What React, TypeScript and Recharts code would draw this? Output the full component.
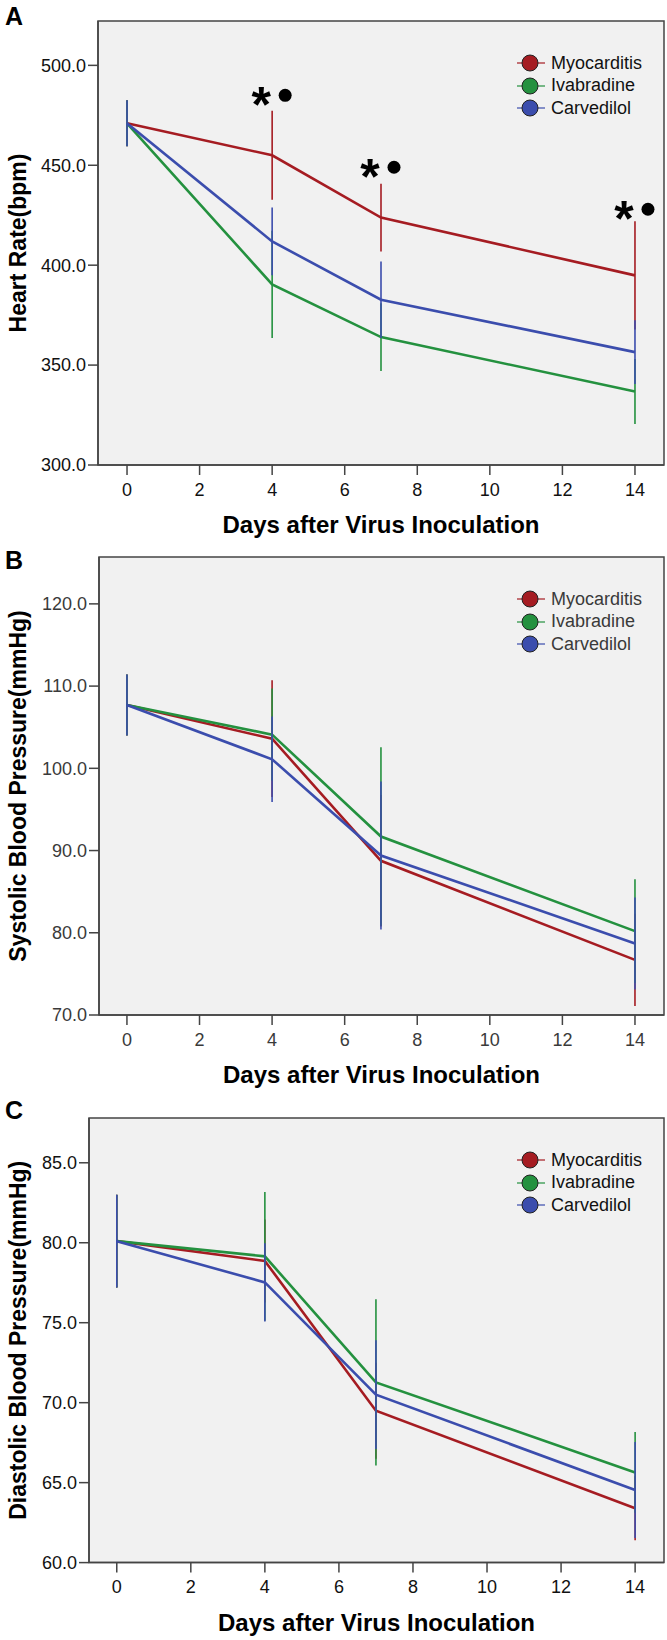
import React from "react";
import {
  LineChart,
  Line,
  XAxis,
  YAxis,
  ErrorBar,
  ReferenceArea,
  ReferenceDot,
  Legend,
} from "recharts";

const days = [0, 4, 7, 14];
const dayTicks = [0, 2, 4, 6, 8, 10, 12, 14];
const groups = ["Myocarditis", "Ivabradine", "Carvedilol"];
const groupColors = ["#A51C22", "#24913F", "#3B4DAD"];

// A: heart rate (bpm), mean and error half-width
const hrMyocarditis = [471, 455, 423.8, 394.9];
const hrIvabradine = [471, 390.4, 364, 336.8];
const hrCarvedilol = [471, 411.9, 382.7, 356.5];
const hrMyocarditisErr = [11.5, 22.3, 17, 27.1];
const hrIvabradineErr = [11.5, 26.8, 17, 16.3];
const hrCarvedilolErr = [11.5, 17, 19.2, 16];
const hrTicks = [300, 350, 400, 450, 500];

// significance marks on panel A
const markDays = [4, 7, 14];
const markLevels = [485, 449, 428];

// B: systolic blood pressure (mmHg)
const sbpMyocarditis = [107.7, 103.6, 88.75, 76.7];
const sbpIvabradine = [107.7, 104.1, 91.7, 80.2];
const sbpCarvedilol = [107.7, 101.1, 89.4, 78.7];
const sbpMyocarditisErr = [3.7, 7.1, 8, 5.6];
const sbpIvabradineErr = [3.7, 5.6, 10.85, 6.3];
const sbpCarvedilolErr = [3.7, 5.2, 9, 5.6];
const sbpTicks = [70, 80, 90, 100, 110, 120];

// C: diastolic blood pressure (mmHg)
const dbpMyocarditis = [80.1, 78.86, 69.5, 63.4];
const dbpIvabradine = [80.1, 79.15, 71.27, 65.64];
const dbpCarvedilol = [80.1, 77.52, 70.5, 64.54];
const dbpMyocarditisErr = [2.9, 2.6, 3, 2];
const dbpIvabradineErr = [2.9, 4.03, 5.2, 2.52];
const dbpCarvedilolErr = [2.9, 2.45, 3.4, 3];
const dbpTicks = [60, 65, 70, 75, 80, 85];

const FONT = '"Liberation Sans", Arial, Helvetica, sans-serif';
const AXIS = "#444";

function buildRows(means: number[][], errs: number[][]) {
  return days.map((day, i) => ({
    day,
    s0: means[0][i],
    s1: means[1][i],
    s2: means[2][i],
    e0: errs[0][i],
    e1: errs[1][i],
    e2: errs[2][i],
  }));
}

const yTitle = (text: string, x: number) => (props: any) => {
  const vb = props.viewBox;
  const cy = vb.y + vb.height / 2;
  return (
    <text
      x={x}
      y={cy}
      transform={`rotate(-90, ${x}, ${cy})`}
      textAnchor="middle"
      dominantBaseline="central"
      fontSize={23}
      fontWeight="bold"
      fontFamily={FONT}
      fill="#000"
    >
      {text}
    </text>
  );
};

const xTitle = (props: any) => {
  const vb = props.viewBox;
  return (
    <text
      x={vb.x + vb.width / 2}
      y={vb.y + 68}
      textAnchor="middle"
      fontSize={24}
      fontWeight="bold"
      fontFamily={FONT}
      fill="#000"
    >
      Days after Virus Inoculation
    </text>
  );
};

const SigMark = (props: any) => {
  const { cx, cy } = props;
  return (
    <g>
      <text
        x={cx - 11}
        y={cy + 27}
        textAnchor="middle"
        fontSize={50}
        fontWeight="bold"
        fontFamily={FONT}
        fill="#000"
      >
        *
      </text>
      <circle cx={cx + 13} cy={cy} r={6.5} fill="#000" />
    </g>
  );
};

const legendContent = (textColor: string) => (props: any) => {
  const items = [...(props.payload || [])].sort(
    (a: any, b: any) => groups.indexOf(a.value) - groups.indexOf(b.value)
  );
  return (
    <div style={{ fontFamily: FONT, fontSize: 18, color: textColor }}>
      {items.map((entry: any) => (
        <div
          key={entry.value}
          style={{ display: "flex", alignItems: "center", height: 22.6 }}
        >
          <svg width={33} height={22} style={{ display: "block" }}>
            <line x1={2} y1={11} x2={30} y2={11} stroke={entry.color} strokeWidth={1.2} />
            <circle cx={15} cy={11} r={8} fill={entry.color} stroke="#222" strokeWidth={1} />
          </svg>
          <span style={{ marginLeft: 3 }}>{entry.value}</span>
        </div>
      ))}
    </div>
  );
};

interface PanelProps {
  top: number;
  height: number;
  marginTop: number;
  yAxisWidth: number;
  xAxisHeight: number;
  xDomain: [number, number];
  yDomain: [number, number];
  yTicks: number[];
  yLabel: string;
  letter: string;
  letterTop: number;
  rows: any[];
  textColor: string;
  marks?: boolean;
}

function Panel(p: PanelProps) {
  const tickStyle = { fontSize: 18, fill: p.textColor, fontFamily: FONT };
  return (
    <div style={{ position: "absolute", left: 0, top: p.top, width: 667, height: p.height }}>
      <LineChart
        width={667}
        height={p.height}
        data={p.rows}
        margin={{ top: p.marginTop, right: 3, bottom: 0, left: 0 }}
      >
        <XAxis
          dataKey="day"
          type="number"
          domain={p.xDomain}
          ticks={dayTicks}
          height={p.xAxisHeight}
          stroke={AXIS}
          strokeWidth={1.5}
          tickSize={10}
          tickMargin={8}
          tick={tickStyle}
          label={xTitle}
        />
        <YAxis
          type="number"
          domain={p.yDomain}
          ticks={p.yTicks}
          width={p.yAxisWidth}
          stroke={AXIS}
          strokeWidth={1.5}
          tickSize={10}
          tickMargin={2}
          tick={tickStyle}
          tickFormatter={(v: number) => v.toFixed(1)}
          label={yTitle(p.yLabel, 18)}
        />
        <ReferenceArea
          x1={p.xDomain[0]}
          x2={p.xDomain[1]}
          y1={p.yDomain[0]}
          y2={p.yDomain[1]}
          fill="#F1F1F1"
          fillOpacity={1}
          stroke={AXIS}
          strokeWidth={1.5}
        />
        {groups.map((g, i) => (
          <Line
            key={g}
            dataKey={`s${i}`}
            name={g}
            stroke={groupColors[i]}
            strokeWidth={2.6}
            dot={false}
            activeDot={false}
            isAnimationActive={false}
          >
            <ErrorBar
              dataKey={`e${i}`}
              width={0}
              stroke={groupColors[i]}
              strokeWidth={1.6}
              direction="y"
              isAnimationActive={false}
            />
          </Line>
        ))}
        {p.marks &&
          markDays.map((d, i) => (
            <ReferenceDot key={d} x={d} y={markLevels[i]} r={6} shape={SigMark} />
          ))}
        <Legend
          layout="vertical"
          align="center"
          verticalAlign="middle"
          wrapperStyle={{ left: 515, top: p.marginTop + 31, width: 150 }}
          content={legendContent(p.textColor)}
        />
      </LineChart>
      <div
        style={{
          position: "absolute",
          left: 5,
          top: p.letterTop,
          fontFamily: FONT,
          fontWeight: "bold",
          fontSize: 25,
          lineHeight: 1,
          color: "#000",
        }}
      >
        {p.letter}
      </div>
    </div>
  );
}

export default function App() {
  const hrRows = buildRows(
    [hrMyocarditis, hrIvabradine, hrCarvedilol],
    [hrMyocarditisErr, hrIvabradineErr, hrCarvedilolErr]
  );
  const sbpRows = buildRows(
    [sbpMyocarditis, sbpIvabradine, sbpCarvedilol],
    [sbpMyocarditisErr, sbpIvabradineErr, sbpCarvedilolErr]
  );
  const dbpRows = buildRows(
    [dbpMyocarditis, dbpIvabradine, dbpCarvedilol],
    [dbpMyocarditisErr, dbpIvabradineErr, dbpCarvedilolErr]
  );
  return (
    <div style={{ position: "absolute", left: 0, top: 0, width: 667, height: 1640, background: "#fff" }}>
      <Panel
        top={0}
        height={545}
        marginTop={21}
        yAxisWidth={98}
        xAxisHeight={80}
        xDomain={[-0.8, 14.8]}
        yDomain={[300, 522.2]}
        yTicks={hrTicks}
        yLabel="Heart Rate(bpm)"
        letter="A"
        letterTop={4}
        rows={hrRows}
        textColor="#111"
        marks
      />
      <Panel
        top={545}
        height={550}
        marginTop={12}
        yAxisWidth={99}
        xAxisHeight={80}
        xDomain={[-0.77, 14.8]}
        yDomain={[70, 125.7]}
        yTicks={sbpTicks}
        yLabel="Systolic Blood Pressure(mmHg)"
        letter="B"
        letterTop={3}
        rows={sbpRows}
        textColor="#3a3a3a"
      />
      <Panel
        top={1095}
        height={545}
        marginTop={23}
        yAxisWidth={89}
        xAxisHeight={77.4}
        xDomain={[-0.75, 14.78]}
        yDomain={[60, 87.8]}
        yTicks={dbpTicks}
        yLabel="Diastolic Blood Pressure(mmHg)"
        letter="C"
        letterTop={3}
        rows={dbpRows}
        textColor="#111"
      />
    </div>
  );
}
